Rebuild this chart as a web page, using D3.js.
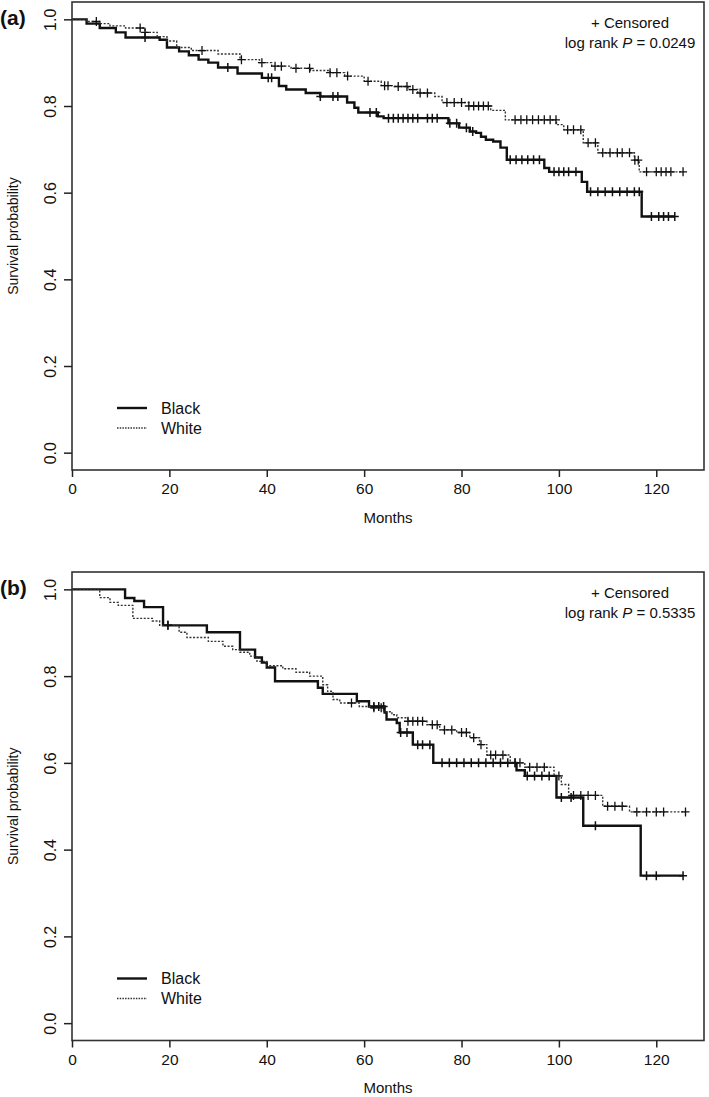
<!DOCTYPE html>
<html><head><meta charset="utf-8">
<script src="https://cdn.jsdelivr.net/npm/d3@7"></script>
<style>
html,body{margin:0;padding:0;background:#fff;}
text{font-family:"Liberation Sans",Arial,sans-serif;fill:#111;}
</style></head>
<body>
<svg id="chart" width="709" height="1097"></svg>
<script>
// ---------- DATA ----------
const xTicks = [0, 20, 40, 60, 80, 100, 120];
const yTicks = [0, 0.2, 0.4, 0.6, 0.8, 1.0];
const groups = ["Black", "White"];
const panelLabels = ["(a)", "(b)"];
const pValues = ["0.0249", "0.5335"];

// Panel (a)
const aBlackT = [0, 3, 5.7, 9, 11, 18, 19.5, 22, 24, 26, 28, 30, 34, 39, 42.5, 44, 48, 51, 56.5, 58, 58.8, 62.8, 64, 77.3, 79.5, 81.7, 83, 84, 85, 86.5, 88, 89.3, 97, 98, 104.7, 105.8, 117];
const aBlackS = [1, 0.99, 0.98, 0.97, 0.958, 0.953, 0.935, 0.926, 0.917, 0.907, 0.90, 0.889, 0.875, 0.865, 0.846, 0.838, 0.830, 0.822, 0.808, 0.796, 0.785, 0.776, 0.772, 0.76, 0.75, 0.741, 0.738, 0.729, 0.722, 0.718, 0.704, 0.676, 0.657, 0.648, 0.625, 0.602, 0.545];
const aBlackCens = [15, 32, 40.3, 41, 51, 53.6, 54.6, 61.2, 62.5, 65, 66, 67, 68, 69, 70, 71, 73, 74, 75, 77.6, 79, 81, 82.3, 90, 91.2, 92.4, 93.6, 94.8, 96, 99, 100, 101, 102, 103.5, 106.5, 108, 109.5, 111, 112.5, 114, 115.5, 116.5, 119, 120.5, 121.5, 122.5, 123.8];

const aWhiteT = [0, 3, 5.7, 7.8, 11, 15, 17.5, 19.5, 21.5, 24.5, 30, 34.5, 38.5, 41, 45, 49, 53, 56, 60, 63.5, 66, 69, 71, 74.5, 76, 81.5, 86, 89, 99.5, 101, 105, 108, 115.5, 116.5];
const aWhiteS = [1, 0.995, 0.99, 0.985, 0.98, 0.97, 0.96, 0.95, 0.935, 0.928, 0.92, 0.907, 0.90, 0.892, 0.887, 0.882, 0.877, 0.869, 0.857, 0.847, 0.845, 0.838, 0.83, 0.822, 0.808, 0.80, 0.79, 0.768, 0.757, 0.745, 0.715, 0.692, 0.675, 0.648];
const aWhiteCens = [5, 14, 15, 26.7, 34.8, 39, 41.7, 43, 46, 48.8, 53, 54.4, 56.6, 60.8, 64.2, 64.9, 67, 68.8, 70, 71.5, 73, 77, 78.5, 80, 81.5, 82.5, 83.5, 84.5, 85.5, 91, 92.2, 93.4, 94.6, 95.8, 97, 98.2, 99.4, 101.8, 103, 104.5, 106, 107.5, 109, 110.5, 112, 113, 114.5, 115.6, 116.3, 118, 120, 121, 122, 123, 125.5];

// Panel (b)
const bBlackT = [0, 10.9, 12.8, 14.8, 18.7, 27.7, 34.5, 37.6, 39, 40, 41.7, 50.5, 51.5, 58.5, 61, 64.2, 64.6, 66.7, 67.3, 70, 74.2, 91.3, 93, 99.5, 105, 116.8];
const bBlackS = [1, 0.98, 0.973, 0.959, 0.917, 0.901, 0.861, 0.843, 0.831, 0.82, 0.788, 0.773, 0.759, 0.742, 0.730, 0.716, 0.70, 0.692, 0.67, 0.642, 0.60, 0.583, 0.57, 0.52, 0.455, 0.34];
const bBlackCens = [19.7, 62, 63, 64, 67.5, 68.8, 71, 72, 73.5, 76, 77.5, 79, 80.5, 82, 83.5, 85, 86.5, 88, 89.5, 91, 93.5, 95, 96.5, 98, 100.5, 102.5, 107.5, 118, 120, 125.5];

const bWhiteT = [0, 5.7, 7.8, 9.5, 12.5, 16.5, 18, 22, 23.6, 28, 31, 33, 34.5, 36.5, 38, 40, 43.3, 46, 48.8, 51.5, 52.5, 53.6, 55, 59, 61.6, 64, 65.7, 66.7, 69, 72.9, 75.5, 79, 81.7, 83.7, 85.2, 90, 93, 99, 100.5, 102, 109, 114.5];
const bWhiteS = [1, 0.981, 0.97, 0.963, 0.933, 0.927, 0.917, 0.901, 0.889, 0.88, 0.869, 0.861, 0.855, 0.846, 0.834, 0.824, 0.817, 0.809, 0.80, 0.78, 0.765, 0.746, 0.738, 0.73, 0.727, 0.718, 0.711, 0.704, 0.696, 0.688, 0.676, 0.67, 0.658, 0.642, 0.618, 0.60, 0.59, 0.57, 0.55, 0.525, 0.50, 0.487];
const bWhiteCens = [19.7, 57.4, 62, 63.5, 69, 70, 71, 72, 74, 75, 76.5, 78, 80, 81, 82.5, 84, 86, 87, 88.5, 91, 92, 94, 95.5, 97, 100, 103, 104.5, 106, 107.5, 110, 111.5, 113, 116, 118, 120, 121.5, 126];

// ---------- DRAW ----------
const svg = d3.select("#chart");
const L = 72, R = 704;

const panels = [
  {top: 2, bottom: 470, label: panelLabels[0], p: pValues[0],
   series: [
     {name: groups[0], T: aBlackT, S: aBlackS, C: aBlackCens},
     {name: groups[1], T: aWhiteT, S: aWhiteS, C: aWhiteCens}]},
  {top: 572, bottom: 1040.5, label: panelLabels[1], p: pValues[1],
   series: [
     {name: groups[0], T: bBlackT, S: bBlackS, C: bBlackCens},
     {name: groups[1], T: bWhiteT, S: bWhiteS, C: bWhiteCens}]}
];

const styles = {
  Black: {stroke: "#111", width: 2.4, dash: null, cw: 1.5},
  White: {stroke: "#333", width: 1.4, dash: "2,1.6", cw: 1.3}
};

panels.forEach(pn => {
  const x = d3.scaleLinear().domain([0, 129.8]).range([L, R]);
  const y = d3.scaleLinear().domain([-0.04, 1.04]).range([pn.bottom, pn.top]);
  const g = svg.append("g");

  // curves
  pn.series.forEach(s => {
    const st = styles[s.name];
    const lastT = d3.max(s.C.concat(s.T));
    const pts = s.T.map((t, i) => [t, s.S[i]]);
    pts.push([lastT, s.S[s.S.length - 1]]);
    const line = d3.line().x(d => x(d[0])).y(d => y(d[1])).curve(d3.curveStepAfter);
    g.append("path").attr("d", line(pts)).attr("fill", "none")
      .attr("stroke", st.stroke).attr("stroke-width", st.width)
      .attr("stroke-dasharray", st.dash);
    // censor marks
    const surv = t => s.S[Math.max(0, d3.bisectRight(s.T, t) - 1)];
    g.selectAll(null).data(s.C).join("path")
      .attr("d", t => {
        const cx = x(t), cy = y(surv(t));
        return `M${cx - 4},${cy}H${cx + 4}M${cx},${cy - 4.5}V${cy + 4.5}`;
      })
      .attr("stroke", "#111").attr("stroke-width", st.cw).attr("fill", "none");
  });

  // frame
  g.append("rect").attr("x", L).attr("y", pn.top).attr("width", R - L).attr("height", pn.bottom - pn.top)
    .attr("fill", "none").attr("stroke", "#333").attr("stroke-width", 1.6);

  // x axis
  const xa = g.append("g").attr("transform", `translate(0,${pn.bottom})`)
    .call(d3.axisBottom(x).tickValues(xTicks).tickSize(7).tickSizeOuter(0).tickPadding(6).tickFormat(d3.format("d")));
  xa.select(".domain").remove();
  xa.selectAll("line").attr("stroke", "#222").attr("stroke-width", 1.5);
  xa.selectAll(".tick text").attr("font-size", 15.5).attr("fill", "#111");

  // y axis
  const ya = g.append("g").attr("transform", `translate(${L},0)`)
    .call(d3.axisLeft(y).tickValues(yTicks).tickSize(8).tickSizeOuter(0).tickFormat(d3.format(".1f")));
  ya.select(".domain").remove();
  ya.selectAll("line").attr("stroke", "#222").attr("stroke-width", 1.5);
  ya.selectAll(".tick text").attr("font-size", 16).attr("fill", "#111")
    .attr("x", null).attr("dy", null)
    .attr("text-anchor", "middle").attr("dominant-baseline", "central")
    .attr("transform", "translate(-22,0) rotate(-90)");

  // axis titles
  g.append("text").attr("x", (L + R) / 2).attr("y", pn.bottom + 47)
    .attr("text-anchor", "middle").attr("dominant-baseline", "central")
    .attr("font-size", 15).text("Months");
  g.append("text").attr("transform", `translate(13,${(pn.top + pn.bottom) / 2}) rotate(-90)`)
    .attr("text-anchor", "middle").attr("dominant-baseline", "central")
    .attr("font-size", 14).text("Survival probability");

  // panel label
  g.append("text").attr("x", 0).attr("y", pn.top + 23).attr("font-size", 21)
    .attr("font-weight", "bold").text(pn.label);

  // censored / p-value text
  g.append("text").attr("x", 630).attr("y", pn.top + 20).attr("text-anchor", "middle")
    .attr("dominant-baseline", "central").attr("font-size", 15).text("+ Censored");
  const pt = g.append("text").attr("x", 630).attr("y", pn.top + 40).attr("text-anchor", "middle")
    .attr("dominant-baseline", "central").attr("font-size", 15);
  pt.append("tspan").text("log rank ");
  pt.append("tspan").attr("font-style", "italic").text("P");
  pt.append("tspan").text(" = " + pn.p);

  // legend
  const ly0 = pn.bottom - 62;
  groups.forEach((name, i) => {
    const st = styles[name];
    const ly = ly0 + i * 20;
    g.append("line").attr("x1", 117).attr("x2", 147).attr("y1", ly).attr("y2", ly)
      .attr("stroke", st.stroke).attr("stroke-width", name === "Black" ? 2.4 : 1.3)
      .attr("stroke-dasharray", name === "Black" ? null : "1.5,1.2");
    g.append("text").attr("x", 161).attr("y", ly).attr("dominant-baseline", "central")
      .attr("font-size", 16).text(name);
  });
});
</script>
</body></html>
